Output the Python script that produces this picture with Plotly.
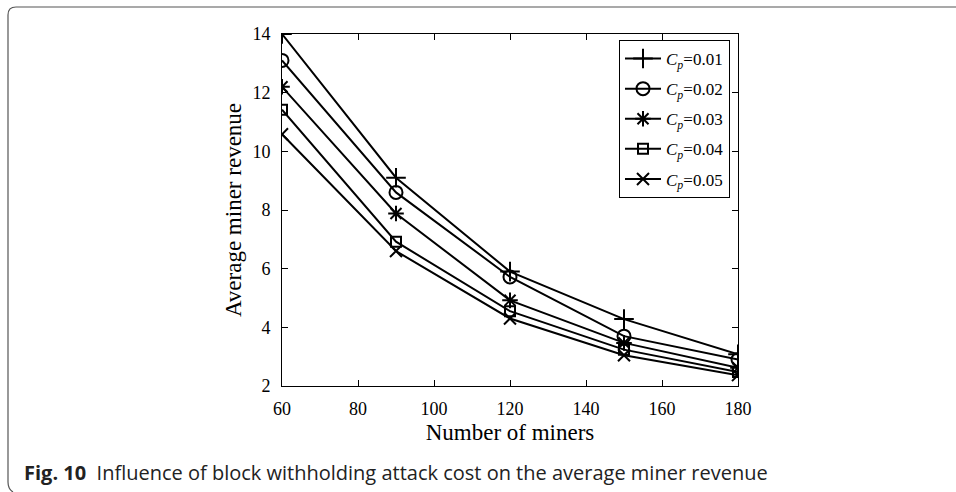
import plotly.graph_objects as go

W, H = 956, 492
miners = [60, 90, 120, 150, 180]
cp_labels = ["0.01", "0.02", "0.03", "0.04", "0.05"]
rev_001 = [14.0, 9.1, 5.9, 4.28, 3.08]
rev_002 = [13.1, 8.6, 5.72, 3.7, 2.9]
rev_003 = [12.2, 7.88, 4.92, 3.47, 2.62]
rev_004 = [11.42, 6.92, 4.55, 3.24, 2.48]
rev_005 = [10.58, 6.6, 4.3, 3.05, 2.37]
series = [rev_001, rev_002, rev_003, rev_004, rev_005]
symbols = ["cross-thin-open", "circle-open", "asterisk-open", "square-open", "x-thin-open"]
sizes = [14, 13, 13, 10, 12]

fig = go.Figure()
for i, (vals, lab, sym, sz) in enumerate(zip(series, cp_labels, symbols, sizes)):
    fig.add_trace(go.Scatter(
        x=miners, y=vals, mode="lines+markers",
        name="<i>C</i><sub><i>p</i></sub>=" + lab,
        legendgroup=f"g{i}",
        line=dict(color="black", width=2),
        marker=dict(symbol=sym, size=sz, color="black", line=dict(color="black", width=2)),
    ))

serif = "Liberation Serif, Times New Roman, serif"
x0, x1 = 282 / W, 738 / W
y0, y1 = 1 - 386 / H, 1 - 34 / H

axis_common = dict(showline=True, linecolor="black", linewidth=1, mirror="ticks",
                   ticks="inside", ticklen=6, tickcolor="black", showgrid=False,
                   zeroline=False, automargin=False,
                   tickfont=dict(family=serif, size=18, color="black"))

fig.update_layout(
    template="none",
    width=W, height=H,
    margin=dict(l=0, r=0, t=0, b=0, autoexpand=False),
    paper_bgcolor="white", plot_bgcolor="white",
    xaxis=dict(domain=[x0, x1], range=[60, 180], tickvals=[60, 80, 100, 120, 140, 160, 180],
               ticklabelstandoff=6,
               title=dict(text="Number of miners", font=dict(family=serif, size=23, color="black"), standoff=6),
               **axis_common),
    yaxis=dict(domain=[y0, y1], range=[2, 14], tickvals=[2, 4, 6, 8, 10, 12, 14],
               ticklabelstandoff=7,
               title=dict(text="Average miner revenue", font=dict(family=serif, size=23, color="black"), standoff=4),
               **axis_common),
    legend=dict(x=730 / W, y=1 - 40 / H, xanchor="right", yanchor="top",
                bgcolor="white", bordercolor="black", borderwidth=1,
                font=dict(family=serif, size=17, color="black"),
                traceorder="grouped", tracegroupgap=5, itemwidth=36),
    showlegend=True,
)

# outer rounded frame (journal figure box)
fig.add_shape(type="path", xref="paper", yref="paper",
              path=f"M 1,{1-7/H} L {16/W},{1-7/H} Q {8/W},{1-7/H} {8/W},{1-15/H} L {8/W},{1-482/H} Q {8/W},{1-489/H} {13/W},{1-492/H}",
              line=dict(color="#555555", width=1.2))

fig.add_annotation(xref="paper", yref="paper", x=22 / W, y=1 - 472 / H, xanchor="left", yanchor="middle",
                   showarrow=False,
                   text="<b>Fig. 10</b>  Influence of block withholding attack cost on the average miner revenue",
                   font=dict(family="Open Sans, Noto Sans, sans-serif", size=20, color="#222222"))

fig.write_html("out.html")
